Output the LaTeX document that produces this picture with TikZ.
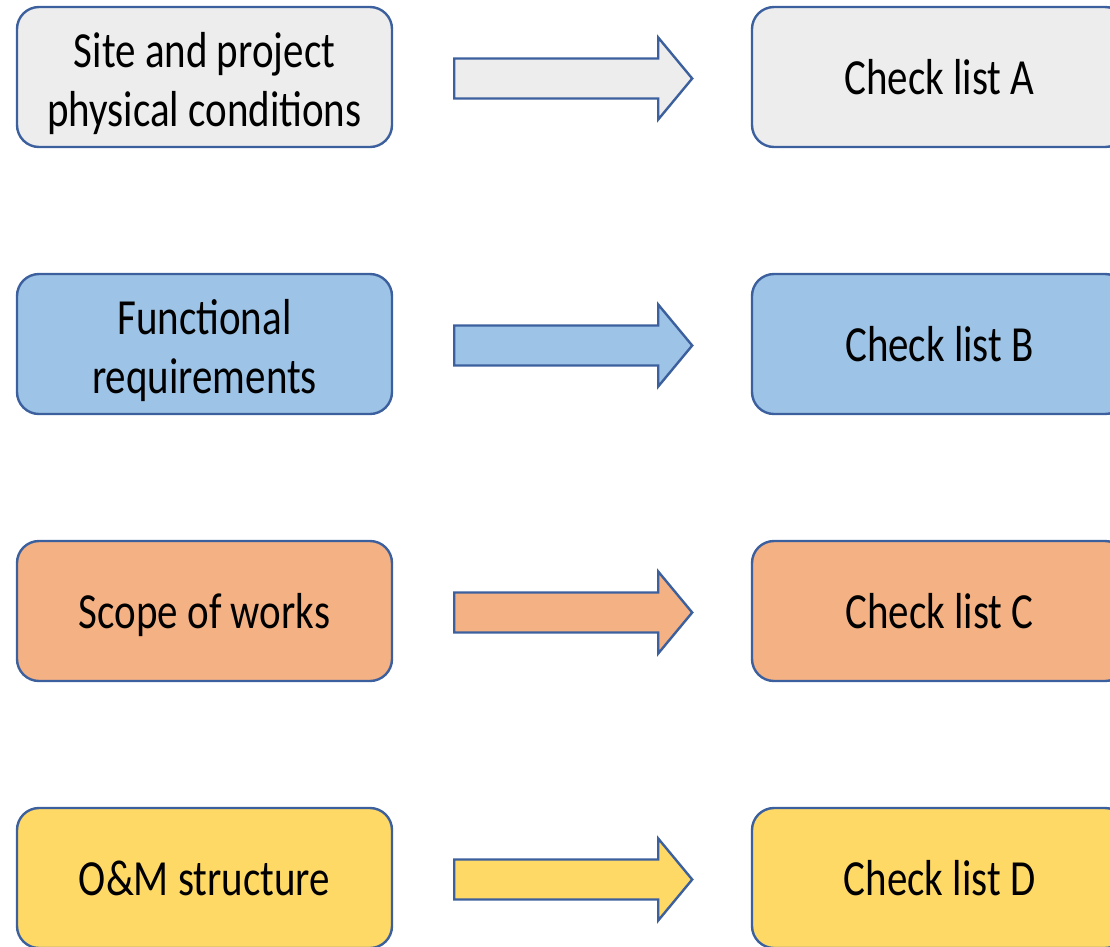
\documentclass[tikz,border=0pt]{standalone}
\usepackage{fontspec}
\setmainfont{Carlito}[FakeStretch=0.81]
\usetikzlibrary{calc}
\definecolor{edgeblue}{RGB}{60,96,158}
\definecolor{fgray}{HTML}{EDEDED}
\definecolor{fblue}{HTML}{9DC3E6}
\definecolor{forange}{HTML}{F4B183}
\definecolor{fyellow}{HTML}{FFD966}
\newcommand\topstrut{\rule{0pt}{48pt}}
\tikzset{
  box/.style={draw=edgeblue, line width=2.4pt, rounded corners=22pt,
    minimum width=375pt, minimum height=140pt, inner sep=0pt,
    align=center, text=black,
    font=\fontsize{50.6pt}{58.5pt}\selectfont},
  oneline/.style={text depth=0pt},
  blockarrow/.style={draw=edgeblue, line width=2.4pt, line join=miter}
}
\newcommand\mkarrow[2]{%
  \draw[blockarrow, fill=#2]
    ($(#1.east)+(61,18.5)$) -- ($(#1.east)+(265,18.5)$) -- ($(#1.east)+(265,39.5)$)
    -- ($(#1.east)+(299,-1.5)$) -- ($(#1.east)+(265,-42.5)$) -- ($(#1.east)+(265,-21.5)$)
    -- ($(#1.east)+(61,-21.5)$) -- cycle;}
\begin{document}
\begin{tikzpicture}[x=1pt,y=-1pt]
\useasboundingbox (0,0) rectangle (1110,946);
\node[box, fill=fgray]   (L1) at (204.5,77)  {\topstrut Site and project\\physical conditions};
\node[box, fill=fblue]   (L2) at (204.5,344) {\topstrut Functional\\requirements};
\node[box, oneline, fill=forange] (L3) at (204.5,611) {Scope of works};
\node[box, oneline, fill=fyellow] (L4) at (204.5,878) {O\&M structure};
\node[box, oneline, fill=fgray]   (R1) at (939.5,77)  {Check list A};
\node[box, oneline, fill=fblue]   (R2) at (939.5,344) {Check list B};
\node[box, oneline, fill=forange] (R3) at (939.5,611) {Check list C};
\node[box, oneline, fill=fyellow] (R4) at (939.5,878) {Check list D};
\begin{scope}[y=1pt]
\mkarrow{L1}{fgray}
\mkarrow{L2}{fblue}
\mkarrow{L3}{forange}
\mkarrow{L4}{fyellow}
\end{scope}
\end{tikzpicture}
\end{document}
